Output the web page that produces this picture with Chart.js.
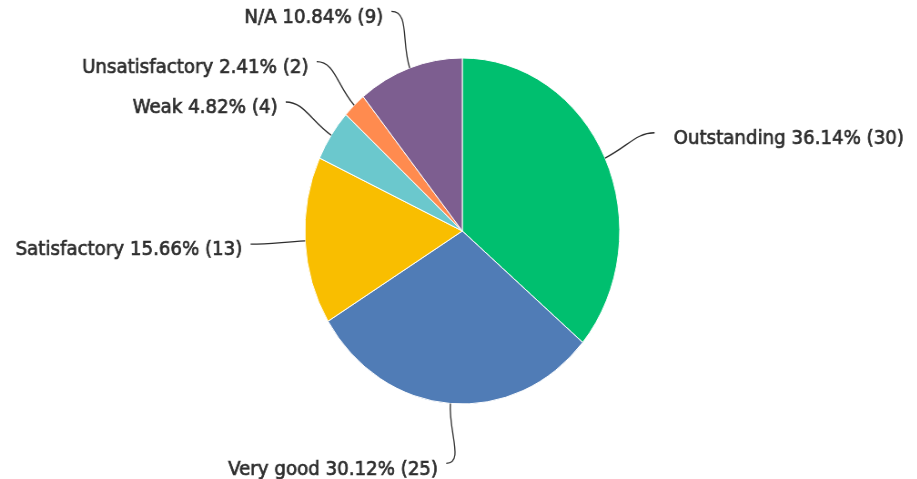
<!DOCTYPE html>
<html>
<head>
<meta charset="utf-8">
<script src="https://cdn.jsdelivr.net/npm/chart.js@4"></script>
<style>
  html, body { margin: 0; padding: 0; background: #fff; overflow: hidden; }
  #wrap { width: 1008px; height: 479px; transform: scale(0.91, 1); transform-origin: 0 0; }
</style>
</head>
<body>
<div id="wrap"><canvas id="ratingChart"></canvas></div>
<script>
const categories = ['Outstanding', 'Very good', 'Satisfactory', 'Weak', 'Unsatisfactory', 'N/A'];
const responses = [30, 25, 13, 4, 2, 9];
const percentLabels = ['36.14%', '30.12%', '15.66%', '4.82%', '2.41%', '10.84%'];
const sliceColors = ['#00bf6f', '#507cb6', '#f9be00', '#6bc8cd', '#ff8b4f', '#7d5e90'];

// draws the leader lines and the "Name xx.xx% (n)" text for each slice
const calloutPlugin = {
    id: 'callouts',
    afterDatasetsDraw(chart) {
        const ctx = chart.ctx;
        const meta = chart.getDatasetMeta(0);
        ctx.save();
        ctx.font = '20px "DejaVu Sans"';
        ctx.fillStyle = '#2e2e2e';
        ctx.strokeStyle = '#2e2e2e';
        ctx.textBaseline = 'middle';
        meta.data.forEach(function (arc, i) {
            const p = arc.getProps(['x', 'y', 'startAngle', 'endAngle', 'outerRadius'], true);
            const mid = (p.startAngle + p.endAngle) / 2;
            const cos = Math.cos(mid), sin = Math.sin(mid);
            const sx = p.x + cos * p.outerRadius;
            const sy = p.y + sin * p.outerRadius;
            const ex = p.x + cos * (p.outerRadius + 60);
            const ey = p.y + sin * (p.outerRadius + 60);
            const right = cos >= 0;
            ctx.lineWidth = 1.3;
            ctx.beginPath();
            ctx.moveTo(sx, sy);
            ctx.bezierCurveTo(
                sx + cos * 28, sy + sin * 28,
                ex + (right ? -20 : 20), ey,
                ex, ey);
            ctx.stroke();
            const text = categories[i] + ' ' + percentLabels[i] + ' (' + responses[i] + ')';
            const tx = right ? ex + 21 : ex - 9;
            ctx.textAlign = right ? 'left' : 'right';
            ctx.fillText(text, tx, ey + 6);
            // thin outline gives the label a semibold weight
            ctx.lineWidth = 0.7;
            ctx.strokeText(text, tx, ey + 6);
        });
        ctx.restore();
    }
};

new Chart(document.getElementById('ratingChart'), {
    type: 'pie',
    data: {
        labels: categories,
        datasets: [{
            data: responses,
            backgroundColor: sliceColors,
            borderColor: '#ffffff',
            borderWidth: 1
        }]
    },
    options: {
        responsive: true,
        maintainAspectRatio: false,
        animation: false,
        radius: 173,
        layout: { padding: { left: 8, right: 0, top: 0, bottom: 17 } },
        plugins: {
            legend: { display: false },
            tooltip: { enabled: false }
        }
    },
    plugins: [calloutPlugin]
});
</script>
</body>
</html>
